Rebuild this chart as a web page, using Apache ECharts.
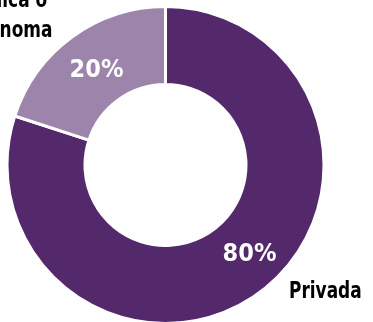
<!DOCTYPE html>
<html><head><meta charset="utf-8">
<script src="https://cdn.jsdelivr.net/npm/echarts@6/dist/echarts.min.js"></script>
<style>html,body{margin:0;padding:0;background:#fff}#c{width:373px;height:322px}</style>
</head><body><div id="c"></div>
<script>
const categories = ['Privada', 'Pública o\nAutónoma'];
const values = [80, 20];
const colors = ['#53296b', '#9c84ab'];
const FONT = "'Liberation Sans Narrow','DejaVu Sans Condensed',sans-serif";

const chart = echarts.init(document.getElementById('c'), null, {renderer: 'canvas'});
chart.setOption({
  animation: false,
  series: [{
    type: 'pie',
    center: [165.5, 165],
    radius: [80.5, 158.5],
    startAngle: 90,
    clockwise: true,
    silent: true,
    itemStyle: {borderColor: '#fff', borderWidth: 3},
    label: {
      position: 'inside',
      color: '#fff',
      fontFamily: FONT,
      fontWeight: 'bold',
      fontSize: 25,
      formatter: p => p.value + '%'
    },
    labelLine: {show: false},
    data: categories.map((c, i) => ({
      name: c, value: values[i],
      itemStyle: {color: colors[i]},
      label: i === 0 ? {offset: [12, -10]} : {offset: [3, 5]}
    }))
  }],
  graphic: [
    {type: 'text', x: 3.5, y: -14, scaleX: 0.82, style: {text: categories[1], fontFamily: FONT, fontWeight: 'bold', fontSize: 23, lineHeight: 30, fill: '#000', align: 'center', verticalAlign: 'top'}},
    {type: 'text', x: 289, y: 277, scaleX: 0.82, style: {text: categories[0], fontFamily: FONT, fontWeight: 'bold', fontSize: 23, lineHeight: 30, fill: '#000', align: 'left', verticalAlign: 'top'}}
  ]
});
</script></body></html>
